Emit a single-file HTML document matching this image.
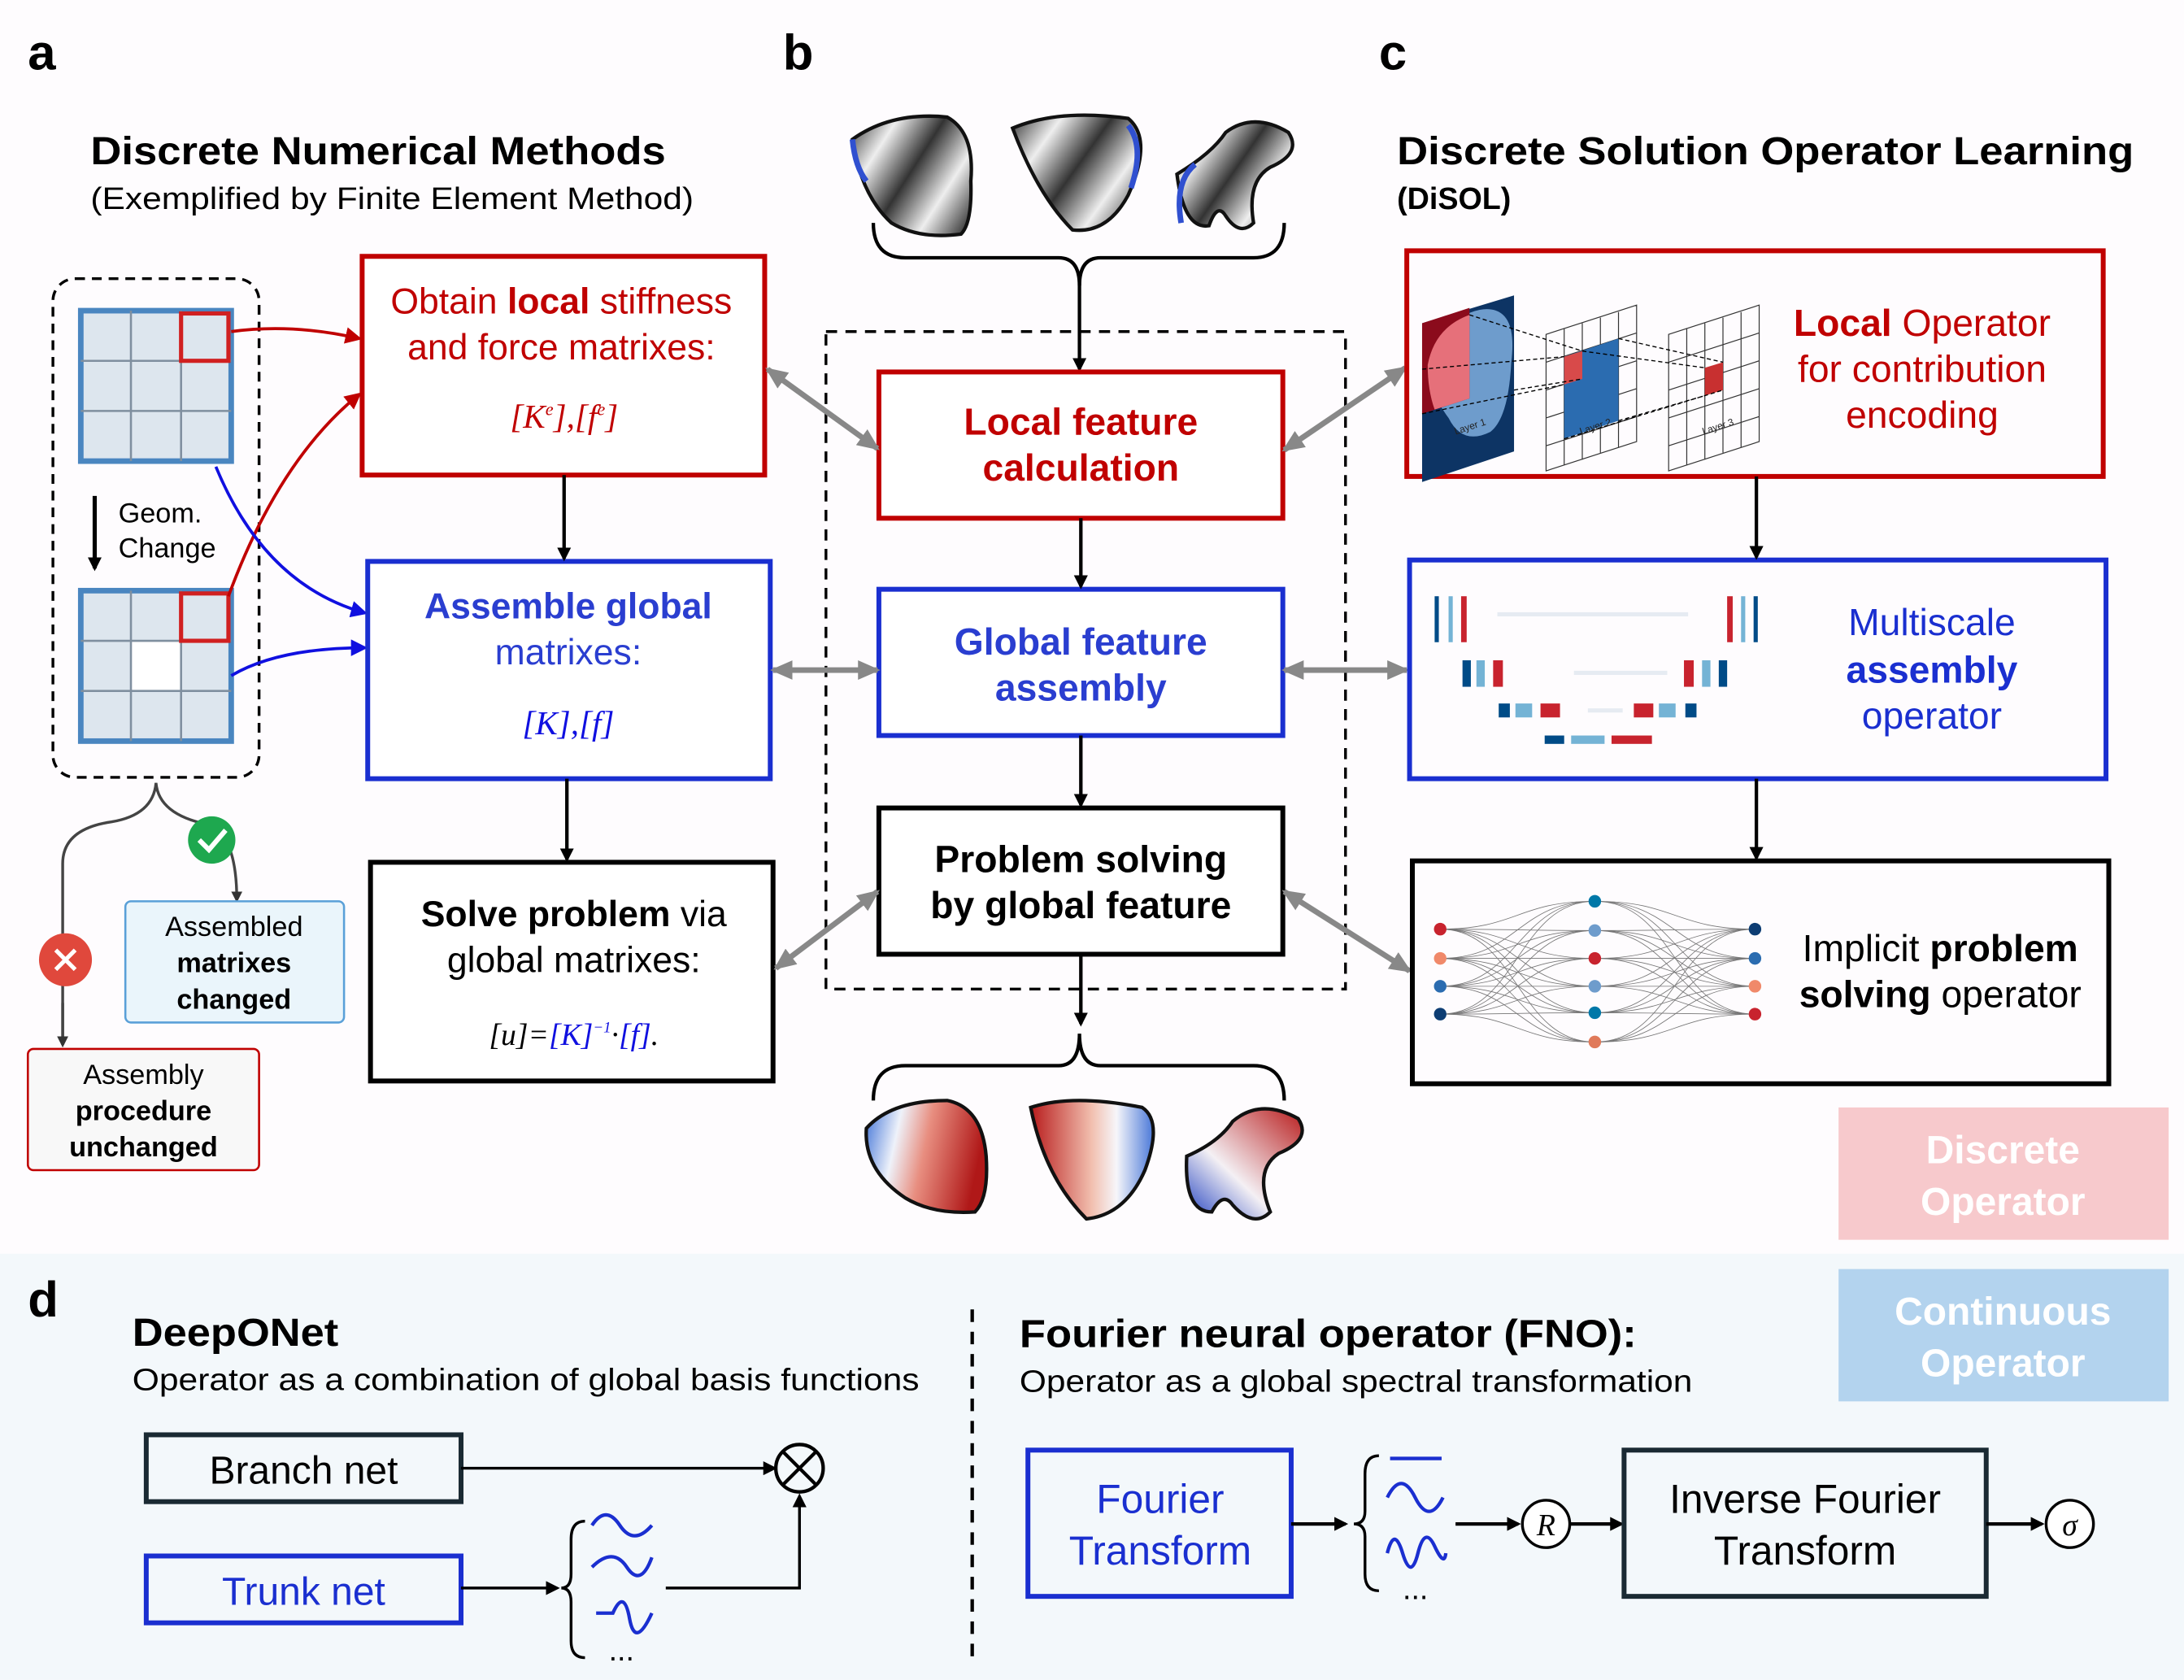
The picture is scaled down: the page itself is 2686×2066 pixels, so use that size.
<!DOCTYPE html>
<html><head><meta charset="utf-8"><style>
html,body{margin:0;padding:0;background:#fefcfe}
svg{display:block}
text{font-family:"Liberation Sans",sans-serif}
.s{font-family:"Liberation Serif",serif;font-style:italic}
</style></head><body>
<svg id="S" width="2686" height="2066" viewBox="0 0 1568 1206" xmlns="http://www.w3.org/2000/svg">
<defs>
<marker id="ak" markerWidth="10" markerHeight="10" refX="8" refY="5" orient="auto" markerUnits="userSpaceOnUse"><path d="M0,0 L10,5 L0,10z" fill="#000"/></marker>
<marker id="ar" markerWidth="12" markerHeight="12" refX="10" refY="6" orient="auto" markerUnits="userSpaceOnUse"><path d="M0,0 L12,6 L0,12z" fill="#c00000"/></marker>
<marker id="ab" markerWidth="12" markerHeight="12" refX="10" refY="6" orient="auto" markerUnits="userSpaceOnUse"><path d="M0,0 L12,6 L0,12z" fill="#1010e0"/></marker>
<marker id="ag" markerWidth="16" markerHeight="14" refX="14" refY="7" orient="auto-start-reverse" markerUnits="userSpaceOnUse"><path d="M0,0 L16,7 L0,14z" fill="#888"/></marker>
<marker id="ad" markerWidth="8" markerHeight="8" refX="6" refY="4" orient="auto" markerUnits="userSpaceOnUse"><path d="M0,0 L8,4 L0,8z" fill="#333"/></marker>
<linearGradient id="gs" x1="0" y1="0" x2="0.28" y2="0.18" spreadMethod="reflect"><stop offset="0" stop-color="#333"/><stop offset="1" stop-color="#eee"/></linearGradient>
<linearGradient id="gr1" x1="0" y1="0" x2="1" y2="0.2"><stop offset="0" stop-color="#3b6fd6"/><stop offset="0.3" stop-color="#eef2fa"/><stop offset="0.55" stop-color="#e88e80"/><stop offset="1" stop-color="#b01818"/></linearGradient>
<linearGradient id="gr2" x1="0" y1="0" x2="1" y2="0"><stop offset="0" stop-color="#b81c1c"/><stop offset="0.5" stop-color="#f2c0b0"/><stop offset="0.7" stop-color="#f6f6fa"/><stop offset="1" stop-color="#4a78d8"/></linearGradient>
<linearGradient id="gr3" x1="0" y1="1" x2="1" y2="0"><stop offset="0" stop-color="#2040c0"/><stop offset="0.4" stop-color="#f4f0f4"/><stop offset="1" stop-color="#b81c1c"/></linearGradient>
</defs>

<rect x="0" y="900" width="1568" height="306" fill="#f3f8fb"/>

<g font-weight="bold" font-size="36">
<text x="20" y="50">a</text><text x="562" y="50">b</text><text x="990" y="50">c</text><text x="20" y="945">d</text>
</g>

<!-- ===== a ===== -->
<text x="65" y="118" font-size="28" font-weight="bold" textLength="413" lengthAdjust="spacingAndGlyphs">Discrete Numerical Methods</text>
<text x="65" y="150" font-size="22" textLength="433" lengthAdjust="spacingAndGlyphs">(Exemplified by Finite Element Method)</text>
<rect x="38" y="200" width="148" height="358" rx="16" fill="none" stroke="#000" stroke-width="2" stroke-dasharray="7,5"/>
<g stroke="#4a86c0">
<rect x="58" y="223" width="108" height="108" fill="#dde6ee" stroke-width="4"/>
<path d="M94,223V331M130,223V331M58,259H166M58,295H166" stroke-width="1.5" stroke="#7f8f9f"/>
<rect x="130" y="225" width="34" height="34" fill="none" stroke="#d02020" stroke-width="3"/>
</g>
<g stroke="#4a86c0">
<rect x="58" y="424" width="108" height="108" fill="#dde6ee" stroke-width="4"/>
<rect x="94" y="460" width="36" height="36" fill="#fff" stroke="none"/>
<path d="M94,424V532M130,424V532M58,460H166M58,496H166" stroke-width="1.5" stroke="#7f8f9f"/>
<rect x="130" y="426" width="34" height="34" fill="none" stroke="#d02020" stroke-width="3"/>
</g>
<line x1="68" y1="356" x2="68" y2="408" stroke="#000" stroke-width="3" marker-end="url(#ak)"/>
<text x="85" y="375" font-size="20">Geom.</text><text x="85" y="400" font-size="20">Change</text>

<path d="M166,238 Q210,232 258,243" fill="none" stroke="#c00000" stroke-width="2.2" marker-end="url(#ar)"/>
<path d="M164,428 Q200,330 258,283" fill="none" stroke="#c00000" stroke-width="2.2" marker-end="url(#ar)"/>
<path d="M155,335 Q190,420 262,440" fill="none" stroke="#1010e0" stroke-width="2.2" marker-end="url(#ab)"/>
<path d="M166,485 Q200,465 262,465" fill="none" stroke="#1010e0" stroke-width="2.2" marker-end="url(#ab)"/>

<path d="M45,750 L45,620 Q45,595 80,590 Q110,585 112,562 Q114,585 150,592 Q170,600 170,646" fill="none" stroke="#444" stroke-width="2" marker-end="url(#ad)"/>
<line x1="45" y1="720" x2="45" y2="750" stroke="#444" stroke-width="2" marker-end="url(#ad)"/>
<circle cx="152" cy="603" r="17" fill="#1ea84f"/>
<path d="M143,603 L150,610 L162,596" fill="none" stroke="#fff" stroke-width="3.5"/>
<circle cx="47" cy="689" r="19" fill="#e0483c"/>
<path d="M40,682 L54,696 M54,682 L40,696" stroke="#fff" stroke-width="3"/>
<rect x="90" y="647" width="157" height="87" rx="4" fill="#eaf5fb" stroke="#5aa0d8" stroke-width="1.5"/>
<g font-size="20" text-anchor="middle"><text x="168" y="672">Assembled</text><text x="168" y="698" font-weight="bold">matrixes</text><text x="168" y="724" font-weight="bold">changed</text></g>
<rect x="20" y="753" width="166" height="87" rx="4" fill="#f8f8f8" stroke="#c00000" stroke-width="1.5"/>
<g font-size="20" text-anchor="middle"><text x="103" y="778">Assembly</text><text x="103" y="804" font-weight="bold">procedure</text><text x="103" y="830" font-weight="bold">unchanged</text></g>

<rect x="260" y="184" width="289" height="157" fill="#fff" stroke="#c00000" stroke-width="3.5"/>
<g font-size="26" text-anchor="middle" fill="#c00000"><text x="403" y="225">Obtain <tspan font-weight="bold">local</tspan> stiffness</text><text x="403" y="258">and force matrixes:</text>
<text x="405" y="307" class="s" font-size="24">[K<tspan font-size="13" dy="-9">e</tspan><tspan dy="9">],[f</tspan><tspan font-size="13" dy="-9">e</tspan><tspan dy="9">]</tspan></text></g>
<rect x="264" y="403" width="289" height="156" fill="#fff" stroke="#1a2fd0" stroke-width="3.5"/>
<g font-size="26" text-anchor="middle" fill="#2a3ed0"><text x="408" y="444" font-weight="bold">Assemble global</text><text x="408" y="477">matrixes:</text>
<text x="408" y="527" class="s" font-size="24" fill="#1010e0">[K],[f]</text></g>
<rect x="266" y="619" width="289" height="157" fill="#fff" stroke="#000" stroke-width="3.5"/>
<g font-size="26" text-anchor="middle"><text x="412" y="665"><tspan font-weight="bold">Solve problem</tspan> via</text><text x="412" y="698">global matrixes:</text>
<text x="412" y="750" class="s" font-size="22">[u]=<tspan fill="#1010e0">[K]</tspan><tspan font-size="11" dy="-9" fill="#1010e0">−1</tspan><tspan dy="9">·</tspan><tspan fill="#1010e0">[f]</tspan>.</text></g>
<line x1="405" y1="341" x2="405" y2="401" stroke="#000" stroke-width="2.5" marker-end="url(#ak)"/>
<line x1="407" y1="559" x2="407" y2="617" stroke="#000" stroke-width="2.5" marker-end="url(#ak)"/>

<!-- ===== b ===== -->
<g stroke="#111" stroke-width="2.5" fill="url(#gs)">
<path d="M612,100 Q640,80 680,84 Q700,95 697,130 Q698,160 690,168 Q660,172 640,160 Q618,140 612,100z"/>
<path d="M727,92 Q760,78 810,85 Q828,100 810,140 Q795,168 770,165 Q745,140 727,92z"/>
<path d="M845,125 Q870,110 880,95 Q900,80 925,95 Q935,110 912,120 Q895,130 900,160 Q890,170 880,155 Q874,145 868,162 Q850,165 845,125z"/>
</g>
<path d="M612,100 Q614,120 622,130" fill="none" stroke="#3050d0" stroke-width="4"/>
<path d="M810,90 Q822,105 812,135" fill="none" stroke="#3050d0" stroke-width="4"/>
<path d="M858,118 Q843,130 848,160" fill="none" stroke="#3050d0" stroke-width="4"/>
<path d="M627,160 Q627,185 650,185 L760,185 Q775,185 775,205 Q775,185 790,185 L900,185 Q922,185 922,160" fill="none" stroke="#000" stroke-width="2.5"/>
<line x1="775" y1="200" x2="775" y2="265" stroke="#000" stroke-width="2.5" marker-end="url(#ak)"/>
<rect x="593" y="238" width="373" height="472" fill="none" stroke="#000" stroke-width="2" stroke-dasharray="8,6"/>
<rect x="631" y="267" width="290" height="105" fill="#fff" stroke="#c00000" stroke-width="3.5"/>
<g font-size="27" font-weight="bold" text-anchor="middle" fill="#c00000"><text x="776" y="312">Local feature</text><text x="776" y="345">calculation</text></g>
<rect x="631" y="423" width="290" height="105" fill="#fff" stroke="#1a2fd0" stroke-width="3.5"/>
<g font-size="27" font-weight="bold" text-anchor="middle" fill="#2a3ed0"><text x="776" y="470">Global feature</text><text x="776" y="503">assembly</text></g>
<rect x="631" y="580" width="290" height="105" fill="#fff" stroke="#000" stroke-width="3.5"/>
<g font-size="27" font-weight="bold" text-anchor="middle"><text x="776" y="626">Problem solving</text><text x="776" y="659">by global feature</text></g>
<line x1="776" y1="372" x2="776" y2="421" stroke="#000" stroke-width="2.5" marker-end="url(#ak)"/>
<line x1="776" y1="528" x2="776" y2="578" stroke="#000" stroke-width="2.5" marker-end="url(#ak)"/>
<line x1="776" y1="685" x2="776" y2="735" stroke="#000" stroke-width="2.5" marker-end="url(#ak)"/>
<path d="M627,790 Q627,765 650,765 L760,765 Q775,765 775,742 Q775,765 790,765 L900,765 Q922,765 922,790" fill="none" stroke="#000" stroke-width="2.5"/>
<g stroke="#111" stroke-width="2.5">
<path d="M622,810 Q640,790 680,790 Q705,795 708,830 Q710,860 700,870 Q670,872 650,860 Q620,840 622,810z" fill="url(#gr1)"/>
<path d="M740,795 Q770,785 820,795 Q835,805 822,840 Q808,872 780,875 Q750,845 740,795z" fill="url(#gr2)"/>
<path d="M852,830 Q875,820 885,805 Q905,788 932,803 Q942,818 918,828 Q900,840 912,870 Q900,882 885,865 Q878,855 870,870 Q850,870 852,830z" fill="url(#gr3)"/>
</g>

<g stroke="#888" stroke-width="4" marker-start="url(#ag)" marker-end="url(#ag)">
<line x1="551" y1="265" x2="630" y2="322"/>
<line x1="555" y1="481" x2="630" y2="481"/>
<line x1="557" y1="695" x2="630" y2="640"/>
<line x1="922" y1="323" x2="1009" y2="264"/>
<line x1="922" y1="481" x2="1010" y2="481"/>
<line x1="922" y1="640" x2="1012" y2="697"/>
</g>

<!-- ===== c ===== -->
<text x="1003" y="118" font-size="28" font-weight="bold" textLength="529" lengthAdjust="spacingAndGlyphs">Discrete Solution Operator Learning</text>
<text x="1003" y="150" font-size="22" font-weight="bold">(DiSOL)</text>
<rect x="1010" y="180" width="500" height="162" fill="#fefcfe" stroke="#c00000" stroke-width="3.5"/>
<path d="M1021,232 L1087,212 L1087,324 L1021,346z" fill="#0d3464"/>
<path d="M1025,260 Q1040,225 1065,222 Q1090,220 1085,260 Q1083,300 1070,310 Q1050,320 1040,300 Q1025,280 1025,260z" fill="#6e9ccc"/>
<path d="M1021,232 L1055,221 L1055,286 L1021,297z" fill="#8b0b1c"/>
<path d="M1025,262 Q1030,235 1055,226 L1055,286 L1030,294 Q1025,280 1025,262z" fill="#e6707a"/>
<g stroke="#333" stroke-width="0.7" fill="none">
<path d="M1110,240 L1175,219 L1175,317 L1110,338z M1123,236V334 M1136,232V330 M1149,228V325 M1162,224V321 M1110,260L1175,239 M1110,280L1175,259 M1110,300L1175,279 M1110,320L1175,299"/>
<path d="M1198,240 L1263,219 L1263,317 L1198,338z M1211,236V334 M1224,232V330 M1237,228V325 M1250,224V321 M1198,260L1263,239 M1198,280L1263,259 M1198,300L1263,279 M1198,320L1263,299"/>
</g>
<path d="M1123,256 L1162,243 L1162,302 L1123,315z" fill="#2b6cb0"/>
<path d="M1123,256 L1136,252 L1136,272 L1123,276z" fill="#d84a4a"/>
<path d="M1224,264 L1237,260 L1237,280 L1224,284z" fill="#c83030"/>
<g stroke="#000" stroke-width="0.8" stroke-dasharray="3,2" fill="none">
<path d="M1021,297 L1123,276 M1055,226 L1136,252 M1087,280 L1136,272 M1021,265 L1123,256 M1136,252 L1224,264 M1162,243 L1237,260 M1162,302 L1224,284 M1123,315 L1237,280"/>
</g>
<g font-size="7" fill="#222"><text x="1045" y="312" transform="rotate(-18 1045 312)">Layer 1</text><text x="1135" y="312" transform="rotate(-18 1135 312)">Layer 2</text><text x="1223" y="312" transform="rotate(-18 1223 312)">Layer 3</text></g>
<g font-size="27" text-anchor="middle" fill="#c00000"><text x="1380" y="241"><tspan font-weight="bold">Local</tspan> Operator</text><text x="1380" y="274">for contribution</text><text x="1380" y="307">encoding</text></g>

<rect x="1012" y="402" width="500" height="157" fill="#fefcfe" stroke="#1a2fd0" stroke-width="3.5"/>
<g>
<rect x="1030" y="428" width="3" height="33" fill="#004b87"/><rect x="1040" y="428" width="3" height="33" fill="#74b3d5"/><rect x="1049" y="428" width="4" height="33" fill="#c8232e"/>
<rect x="1240" y="428" width="4" height="33" fill="#c8232e"/><rect x="1250" y="428" width="3" height="33" fill="#74b3d5"/><rect x="1259" y="428" width="3" height="33" fill="#004b87"/>
<rect x="1050" y="474" width="6" height="19" fill="#004b87"/><rect x="1060" y="474" width="6" height="19" fill="#74b3d5"/><rect x="1072" y="474" width="7" height="19" fill="#c8232e"/>
<rect x="1209" y="474" width="7" height="19" fill="#c8232e"/><rect x="1222" y="474" width="6" height="19" fill="#74b3d5"/><rect x="1234" y="474" width="6" height="19" fill="#004b87"/>
<rect x="1076" y="505" width="8" height="10" fill="#004b87"/><rect x="1088" y="505" width="12" height="10" fill="#74b3d5"/><rect x="1106" y="505" width="14" height="10" fill="#c8232e"/>
<rect x="1173" y="505" width="14" height="10" fill="#c8232e"/><rect x="1191" y="505" width="12" height="10" fill="#74b3d5"/><rect x="1210" y="505" width="8" height="10" fill="#004b87"/>
<rect x="1109" y="528" width="14" height="6" fill="#004b87"/><rect x="1128" y="528" width="24" height="6" fill="#74b3d5"/><rect x="1157" y="528" width="29" height="6" fill="#c8232e"/>
<path d="M1075,441 H1212 M1130,483 H1197 M1140,510 H1165" stroke="#e6ebf2" stroke-width="3"/>
</g>
<g font-size="27" text-anchor="middle" fill="#1a2fd0"><text x="1387" y="456">Multiscale</text><text x="1387" y="490" font-weight="bold">assembly</text><text x="1387" y="523">operator</text></g>

<rect x="1014" y="618" width="500" height="160" fill="#fefcfe" stroke="#000" stroke-width="3.5"/>
<g id="nn" stroke="#555" stroke-width="0.5" fill="none" opacity="0.8"></g>
<g id="nnodes"></g>
<g font-size="27" text-anchor="middle"><text x="1393" y="690">Implicit <tspan font-weight="bold">problem</tspan></text><text x="1393" y="723"><tspan font-weight="bold">solving</tspan> operator</text></g>
<line x1="1261" y1="342" x2="1261" y2="400" stroke="#000" stroke-width="2.5" marker-end="url(#ak)"/>
<line x1="1261" y1="559" x2="1261" y2="616" stroke="#000" stroke-width="2.5" marker-end="url(#ak)"/>

<rect x="1320" y="795" width="237" height="95" fill="#f7c9cc"/>
<g font-size="28" font-weight="bold" fill="#fff" text-anchor="middle"><text x="1438" y="835">Discrete</text><text x="1438" y="872">Operator</text></g>
<rect x="1320" y="911" width="237" height="95" fill="#b3d3ee"/>
<g font-size="28" font-weight="bold" fill="#fff" text-anchor="middle"><text x="1438" y="951">Continuous</text><text x="1438" y="988">Operator</text></g>

<!-- ===== d ===== -->
<text x="95" y="966" font-size="28" font-weight="bold" textLength="148" lengthAdjust="spacingAndGlyphs">DeepONet</text>
<text x="95" y="998" font-size="22" textLength="565" lengthAdjust="spacingAndGlyphs">Operator as a combination of global basis functions</text>
<rect x="105" y="1030" width="226" height="48" fill="none" stroke="#1a2a33" stroke-width="3.5"/>
<text x="218" y="1065" font-size="28" text-anchor="middle">Branch net</text>
<rect x="105" y="1117" width="226" height="48" fill="none" stroke="#1a2fd0" stroke-width="3.5"/>
<text x="218" y="1152" font-size="28" text-anchor="middle" fill="#1a2fd0">Trunk net</text>
<line x1="331" y1="1054" x2="556" y2="1054" stroke="#000" stroke-width="2" marker-end="url(#ak)"/>
<circle cx="574" cy="1054" r="17" fill="none" stroke="#000" stroke-width="2.5"/>
<path d="M562,1042 L586,1066 M586,1042 L562,1066" stroke="#000" stroke-width="2.5"/>
<line x1="331" y1="1140" x2="400" y2="1140" stroke="#000" stroke-width="2" marker-end="url(#ak)"/>
<path d="M420,1092 Q410,1092 410,1105 L410,1130 Q410,1140 403,1140 Q410,1140 410,1150 L410,1178 Q410,1190 420,1190" fill="none" stroke="#000" stroke-width="2"/>
<g fill="none" stroke="#1a2fd0" stroke-width="2.5">
<path d="M425,1095 Q435,1080 445,1095 T468,1095"/>
<path d="M425,1125 Q440,1110 450,1125 T468,1118"/>
<path d="M428,1158 L440,1158 Q448,1140 452,1162 T468,1158"/>
</g>
<text x="437" y="1192" font-size="22">...</text>
<path d="M478,1140 H574 V1074" fill="none" stroke="#000" stroke-width="2" marker-end="url(#ak)"/>
<line x1="698" y1="940" x2="698" y2="1190" stroke="#000" stroke-width="2.5" stroke-dasharray="9,7"/>

<text x="732" y="967" font-size="28" font-weight="bold" textLength="443" lengthAdjust="spacingAndGlyphs">Fourier neural operator (FNO):</text>
<text x="732" y="999" font-size="22" textLength="483" lengthAdjust="spacingAndGlyphs">Operator as a global spectral transformation</text>
<rect x="738" y="1041" width="189" height="105" fill="none" stroke="#1a2fd0" stroke-width="3.5"/>
<g font-size="29" text-anchor="middle" fill="#1a2fd0"><text x="833" y="1086">Fourier</text><text x="833" y="1123">Transform</text></g>
<line x1="927" y1="1094" x2="966" y2="1094" stroke="#000" stroke-width="2.5" marker-end="url(#ak)"/>
<path d="M990,1045 Q980,1045 980,1058 L980,1085 Q980,1094 972,1094 Q980,1094 980,1103 L980,1130 Q980,1142 990,1142" fill="none" stroke="#000" stroke-width="2"/>
<g fill="none" stroke="#1a2fd0" stroke-width="2.5">
<path d="M998,1047 H1035"/>
<path d="M996,1075 Q1006,1055 1016,1075 T1036,1075"/>
<path d="M996,1115 Q1001,1095 1007,1115 T1018,1115 T1030,1110 T1038,1115"/>
</g>
<text x="1007" y="1148" font-size="22">...</text>
<line x1="1045" y1="1094" x2="1090" y2="1094" stroke="#000" stroke-width="2.5" marker-end="url(#ak)"/>
<circle cx="1110" cy="1094" r="17" fill="#fff" stroke="#000" stroke-width="2"/>
<text x="1110" y="1102" font-size="22" class="s" text-anchor="middle">R</text>
<line x1="1127" y1="1094" x2="1164" y2="1094" stroke="#000" stroke-width="2.5" marker-end="url(#ak)"/>
<rect x="1166" y="1041" width="260" height="105" fill="none" stroke="#1a2a33" stroke-width="3.5"/>
<g font-size="29" text-anchor="middle"><text x="1296" y="1086">Inverse Fourier</text><text x="1296" y="1123">Transform</text></g>
<line x1="1426" y1="1094" x2="1466" y2="1094" stroke="#000" stroke-width="2.5" marker-end="url(#ak)"/>
<circle cx="1486" cy="1094" r="17" fill="#fff" stroke="#000" stroke-width="2"/>
<text x="1486" y="1102" font-size="22" class="s" text-anchor="middle">σ</text>
</svg>
<script>
(function(){
var ns="http://www.w3.org/2000/svg";
var L=[[1034,667,"#c8232e"],[1034,688,"#f0896a"],[1034,708,"#2b6cb0"],[1034,728,"#0d3d73"]];
var M=[[1145,647,"#0078a8"],[1145,668,"#6e9ccc"],[1145,688,"#c8232e"],[1145,708,"#6e9ccc"],[1145,727,"#0078a8"],[1145,748,"#e07a5a"]];
var R=[[1260,667,"#0d3d73"],[1260,688,"#2b6cb0"],[1260,708,"#f0896a"],[1260,728,"#c8232e"]];
var g=document.getElementById("nn"),n=document.getElementById("nnodes");
function c(a,b){var p=document.createElementNS(ns,"path");var mx=(a[0]+b[0])/2;
p.setAttribute("d","M"+a[0]+","+a[1]+" C"+mx+","+a[1]+" "+mx+","+b[1]+" "+b[0]+","+b[1]);g.appendChild(p);}
L.forEach(function(a){M.forEach(function(b){c(a,b)})});
M.forEach(function(a){R.forEach(function(b){c(a,b)})});
L.concat(M,R).forEach(function(a){var e=document.createElementNS(ns,"circle");e.setAttribute("cx",a[0]);e.setAttribute("cy",a[1]);e.setAttribute("r",4.5);e.setAttribute("fill",a[2]);n.appendChild(e);});
})();
</script>
</body></html>
